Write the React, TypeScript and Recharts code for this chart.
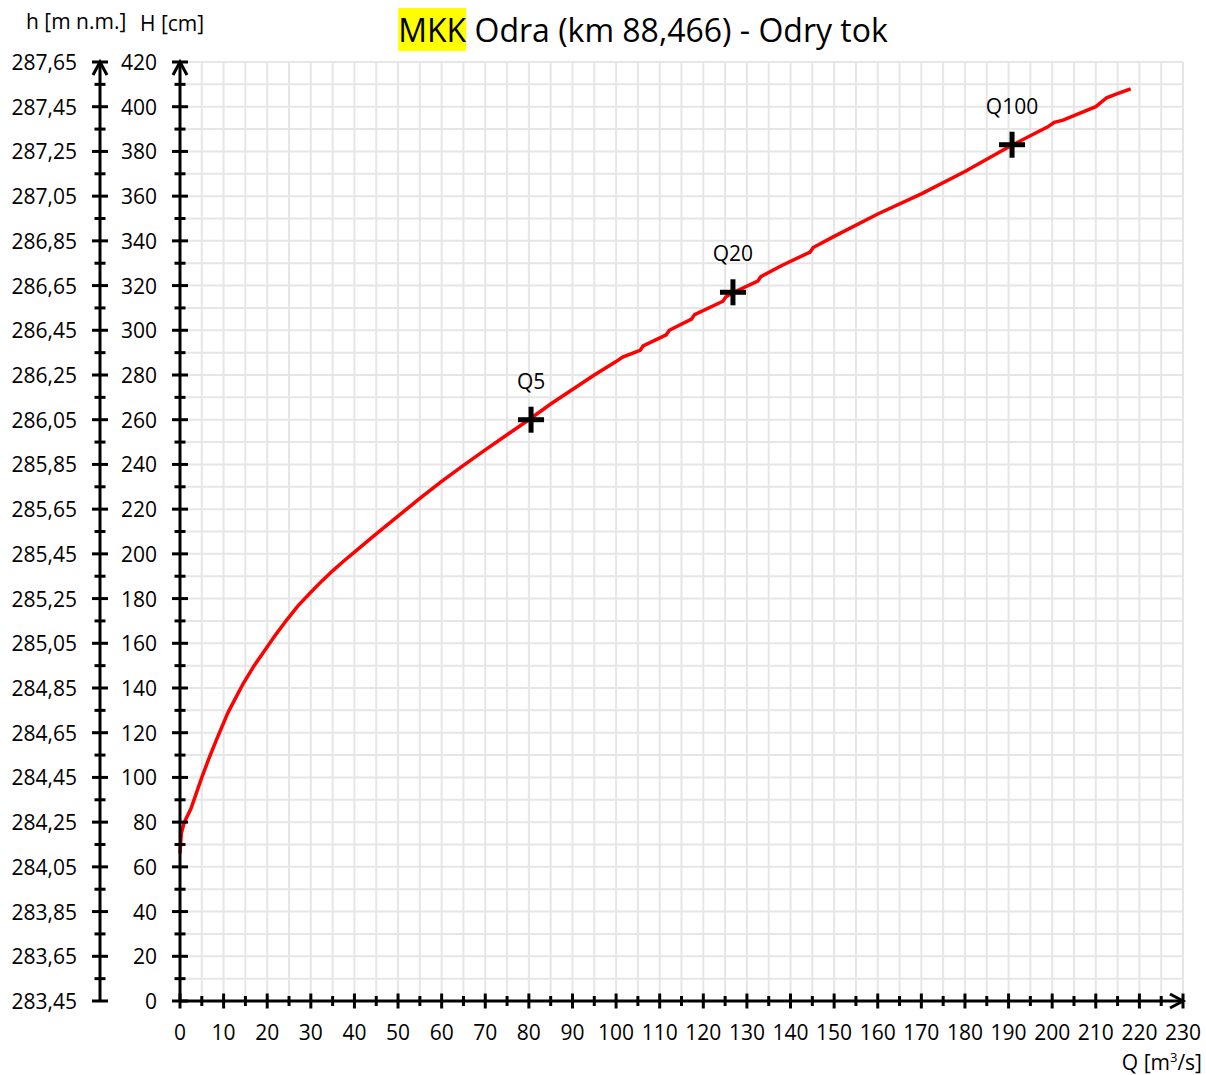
import { ComposedChart, Line, Scatter, XAxis, YAxis, CartesianGrid } from 'recharts';

// rating curve: discharge Q [m3/s] vs stage H [cm]
const CURVE_Q = [0, 0.3, 1, 2.5, 5, 6.7, 8.4, 11, 14.5, 17, 19.5, 22, 24.5, 27, 30, 32.5, 35, 37.5, 40, 45, 50, 55, 60, 65, 70, 75, 80, 85, 90, 95, 100, 101.5, 105.5, 106.2, 111.5, 112.2, 117.3, 118, 124.5, 125.2, 127, 132.5, 133.2, 138, 144.5, 145.2, 150, 160, 170, 180, 190, 199, 200.5, 202.5, 210, 212.5, 214.5, 218];
const CURVE_H = [66, 75, 80, 86, 100, 108.8, 117, 129, 142, 150, 157, 164, 170.5, 176.6, 182.8, 187.8, 192.4, 196.7, 200.8, 208.9, 216.9, 224.8, 232.4, 239.6, 246.5, 253.3, 260, 267, 273.5, 280, 286, 288, 291, 293, 298, 300, 305, 307, 313, 315, 317, 322, 324, 329, 335, 337, 342, 352, 361, 371, 382, 391, 393, 394, 400, 404, 405.5, 408];

const MARK_NAMES = ['Q5', 'Q20', 'Q100'];
const MARK_Q = [80.5, 126.8, 190.8];
const MARK_H = [260, 317, 383];

const Q_TICKS = Array.from({ length: 47 }, (_, i) => i * 5);
const H_TICKS = Array.from({ length: 43 }, (_, i) => i * 10);
const LEVEL_TICKS = Array.from({ length: 43 }, (_, i) => Math.round((283.45 + i * 0.1) * 100) / 100);

const curveData = CURVE_Q.map((q, i) => ({ Q: q, H: CURVE_H[i] }));
const markData = MARK_NAMES.map((name, i) => ({ name, Q: MARK_Q[i], H: MARK_H[i] }));

const XTick = (props: any) => {
  const { x, y, payload } = props;
  const v = payload.value;
  const major = v % 10 === 0;
  const len = major ? 7.5 : 5;
  return (
    <g>
      <line x1={x} x2={x} y1={y - len} y2={y + len} stroke="#000" strokeWidth={3} />
      {v === 230 && (
        <polyline points={`${x - 13},${y - 7} ${x},${y} ${x - 13},${y + 7}`} fill="none" stroke="#000" strokeWidth={3} />
      )}
      {major && (
        <text x={x} y={y + 31} textAnchor="middle" dominantBaseline="central" fontSize={21} fill="#000">
          {v}
        </text>
      )}
    </g>
  );
};

const makeYTick = (fmt: (v: number) => string, last: number) => (props: any) => {
  const { x, y, payload, index } = props;
  const major = index % 2 === 0;
  const len = major ? 8 : 5.5;
  return (
    <g>
      <line x1={x - len} x2={x + len} y1={y} y2={y} stroke="#000" strokeWidth={3} />
      {payload.value === last && (
        <polyline points={`${x - 7},${y + 13} ${x},${y} ${x + 7},${y + 13}`} fill="none" stroke="#000" strokeWidth={3} />
      )}
      {major && (
        <text x={x - 23} y={y} textAnchor="end" dominantBaseline="central" fontSize={21} fill="#000">
          {fmt(payload.value)}
        </text>
      )}
    </g>
  );
};

const HTick = makeYTick((v) => String(v), 420);
const LevelTick = makeYTick((v) => v.toFixed(2).replace('.', ','), 287.65);

const Cross = (props: any) => {
  const { cx, cy, payload } = props;
  return (
    <g>
      <line x1={cx - 13} x2={cx + 13} y1={cy} y2={cy} stroke="#000" strokeWidth={5} />
      <line x1={cx} x2={cx} y1={cy - 13} y2={cy + 13} stroke="#000" strokeWidth={5} />
      <text x={cx} y={cy - 39} textAnchor="middle" dominantBaseline="central" fontSize={21} fill="#000">
        {payload.name}
      </text>
    </g>
  );
};

export default function App() {
  return (
    <div style={{ position: 'relative', width: 1206, height: 1075, overflow: 'hidden', fontFamily: '"Open Sans", sans-serif', color: '#000' }}>
      <style>{'body{margin:0}'}</style>
      <div style={{ position: 'absolute', left: 643, top: 8, transform: 'translateX(-50%)', fontSize: 32, whiteSpace: 'nowrap' }}>
        <span style={{ background: '#ffff00' }}>MKK</span> Odra (km 88,466) - Odry tok
      </div>
      <div style={{ position: 'absolute', left: 26, top: 11, fontSize: 21, lineHeight: '21px', whiteSpace: 'nowrap' }}>h [m n.m.]</div>
      <div style={{ position: 'absolute', left: 140, top: 13, fontSize: 21, lineHeight: '21px', whiteSpace: 'nowrap' }}>H [cm]</div>
      <div style={{ position: 'absolute', right: 4, top: 1052, fontSize: 21, lineHeight: '21px', whiteSpace: 'nowrap' }}>
        Q [m<span style={{ fontSize: 13, position: 'relative', top: -8 }}>3</span>/s]
      </div>
      <ComposedChart width={1206} height={1075} margin={{ top: 62, right: 23, bottom: 34, left: 8 }}>
        <CartesianGrid yAxisId="H" stroke="#e6e6e6" strokeWidth={2} />
        <XAxis
          dataKey="Q"
          type="number"
          domain={[0, 230]}
          ticks={Q_TICKS}
          interval={0}
          height={40}
          tickSize={0}
          tickMargin={0}
          axisLine={{ stroke: '#000', strokeWidth: 3 }}
          tickLine={false}
          tick={<XTick />}
        />
        <YAxis
          yAxisId="H"
          type="number"
          domain={[0, 420]}
          ticks={H_TICKS}
          interval={0}
          width={80}
          tickSize={0}
          tickMargin={0}
          axisLine={{ stroke: '#000', strokeWidth: 3 }}
          tickLine={false}
          tick={<HTick />}
        />
        <YAxis
          yAxisId="h"
          type="number"
          domain={[283.45, 287.65]}
          ticks={LEVEL_TICKS}
          interval={0}
          allowDataOverflow
          width={92}
          tickSize={0}
          tickMargin={0}
          axisLine={{ stroke: '#000', strokeWidth: 3 }}
          tickLine={false}
          tick={<LevelTick />}
        />
        <Line
          yAxisId="H"
          data={curveData}
          dataKey="H"
          type="linear"
          stroke="#ff0000"
          strokeWidth={3.5}
          dot={false}
          isAnimationActive={false}
        />
        <Scatter yAxisId="H" data={markData} dataKey="H" shape={<Cross />} isAnimationActive={false} />
      </ComposedChart>
    </div>
  );
}
